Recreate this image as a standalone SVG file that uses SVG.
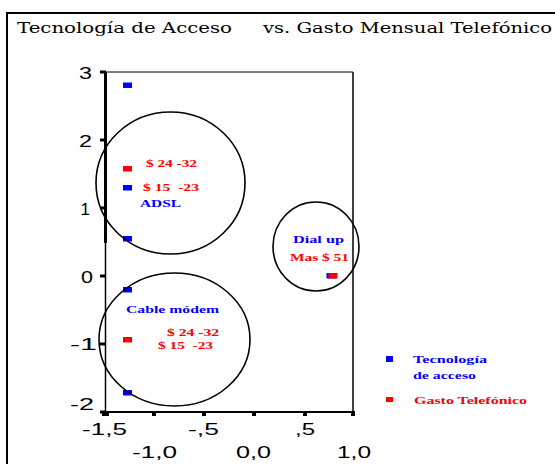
<svg xmlns="http://www.w3.org/2000/svg" width="555" height="464" viewBox="0 0 555 464">
<style>
.title{font-family:"DejaVu Serif","Liberation Serif",serif;font-size:15px;fill:#000}
.ax{font-family:"Liberation Sans",Arial,sans-serif;font-size:17px;fill:#000}
.lb{font-family:"Liberation Serif","Times New Roman",serif;font-size:11px;font-weight:bold}
.blue{fill:#0000ff}
.red{fill:#ff0000}
.circ{fill:none;stroke:#000;stroke-width:1.6}
</style>
<rect width="555" height="464" fill="#fff"/>
<g id="frame">
<path d="M7 464 V13 H555" fill="none" stroke="#000" stroke-width="2"/>
</g>
<g id="title">
<text class="title" x="17" y="33" textLength="215" lengthAdjust="spacingAndGlyphs">Tecnología de Acceso</text>
<text class="title" x="263" y="33" textLength="289" lengthAdjust="spacingAndGlyphs">vs. Gasto Mensual Telefónico</text>
</g>
<g id="axes" stroke="#000" fill="none">
<line x1="105" y1="72" x2="353" y2="72" stroke-width="1"/>
<line x1="353" y1="72" x2="353" y2="412" stroke-width="1.5"/>
<line x1="105.5" y1="72" x2="105.5" y2="243" stroke-width="3"/>
<line x1="105.5" y1="243" x2="105.5" y2="412" stroke-width="1.5"/>
<line x1="105" y1="412" x2="353" y2="412" stroke-width="2"/>
<g stroke-width="3">
<line x1="100" y1="72" x2="106" y2="72"/>
<line x1="100" y1="140" x2="106" y2="140"/>
<line x1="100" y1="208" x2="106" y2="208"/>
<line x1="100" y1="276" x2="106" y2="276"/>
<line x1="100" y1="344" x2="106" y2="344"/>
<line x1="100" y1="412" x2="106" y2="412"/>
</g>
</g>
<g id="xticks" fill="#000">
<rect x="102" y="411" width="7" height="5"/>
<rect x="152" y="411" width="4" height="5"/>
<rect x="202" y="411" width="4" height="5"/>
<rect x="252" y="411" width="4" height="5"/>
<rect x="303" y="411" width="4" height="5"/>
<rect x="351" y="411" width="4" height="5"/>
</g>
<g id="ylabels" class="ax" text-anchor="end">
<text x="92" y="79" textLength="13" lengthAdjust="spacingAndGlyphs">3</text>
<text x="92" y="147" textLength="13" lengthAdjust="spacingAndGlyphs">2</text>
<text x="90" y="215">1</text>
<text x="93" y="283" textLength="12" lengthAdjust="spacingAndGlyphs">0</text>
<text x="97" y="350" textLength="27" lengthAdjust="spacingAndGlyphs">-1</text>
<text x="94" y="410" textLength="24" lengthAdjust="spacingAndGlyphs">-2</text>
</g>
<g id="xlabels" class="ax">
<text x="82" y="435" textLength="45" lengthAdjust="spacingAndGlyphs">-1,5</text>
<text x="188" y="435" textLength="31" lengthAdjust="spacingAndGlyphs">-,5</text>
<text x="295" y="435" textLength="20" lengthAdjust="spacingAndGlyphs">,5</text>
<text x="132" y="458" textLength="45" lengthAdjust="spacingAndGlyphs">-1,0</text>
<text x="236" y="458" textLength="35" lengthAdjust="spacingAndGlyphs">0,0</text>
<text x="337" y="458" textLength="34" lengthAdjust="spacingAndGlyphs">1,0</text>
</g>
<g id="points">
<rect class="blue" x="123" y="82.5" width="9" height="5.5"/>
<rect class="red" x="123" y="166" width="9" height="5.5"/>
<rect class="blue" x="123" y="185" width="9" height="5.5"/>
<rect class="blue" x="123" y="236" width="9" height="5.5"/>
<rect class="blue" x="123" y="287" width="9" height="5.5"/>
<rect class="red" x="123" y="337" width="9" height="5.5"/>
<rect class="blue" x="123" y="390" width="9" height="5.5"/>
<rect class="blue" x="326.5" y="273" width="9" height="5.5"/>
<rect class="red" x="328.5" y="273" width="9" height="5.5"/>
</g>
<g id="adsl">
<ellipse class="circ" cx="170.5" cy="183" rx="74.5" ry="71"/>
<text class="lb red" x="146" y="167" textLength="51" lengthAdjust="spacingAndGlyphs">$ 24 -32</text>
<text class="lb red" x="143" y="191" textLength="56" lengthAdjust="spacingAndGlyphs" xml:space="preserve">$ 15  -23</text>
<text class="lb blue" x="140" y="207" textLength="41" lengthAdjust="spacingAndGlyphs">ADSL</text>
</g>
<g id="cable">
<ellipse class="circ" cx="174.5" cy="339.5" rx="75.5" ry="66.5"/>
<text class="lb blue" x="126" y="313" textLength="93" lengthAdjust="spacingAndGlyphs">Cable módem</text>
<text class="lb red" x="167" y="336" textLength="52" lengthAdjust="spacingAndGlyphs">$ 24 -32</text>
<text class="lb red" x="158" y="349" textLength="55" lengthAdjust="spacingAndGlyphs" xml:space="preserve">$ 15  -23</text>
</g>
<g id="dialup">
<ellipse class="circ" cx="316" cy="246.5" rx="43" ry="44.5"/>
<text class="lb blue" x="293" y="243" textLength="51" lengthAdjust="spacingAndGlyphs">Dial up</text>
<text class="lb red" x="290" y="261" textLength="59" lengthAdjust="spacingAndGlyphs">Mas $ 51</text>
</g>
<g id="legend">
<rect class="blue" x="386" y="356" width="7" height="6"/>
<text class="lb blue" x="413" y="363" textLength="74" lengthAdjust="spacingAndGlyphs">Tecnología</text>
<text class="lb blue" x="413" y="379" textLength="63" lengthAdjust="spacingAndGlyphs">de acceso</text>
<rect class="red" x="386" y="397" width="7" height="5"/>
<text class="lb red" x="414" y="404" textLength="113" lengthAdjust="spacingAndGlyphs">Gasto Telefónico</text>
</g>
</svg>
